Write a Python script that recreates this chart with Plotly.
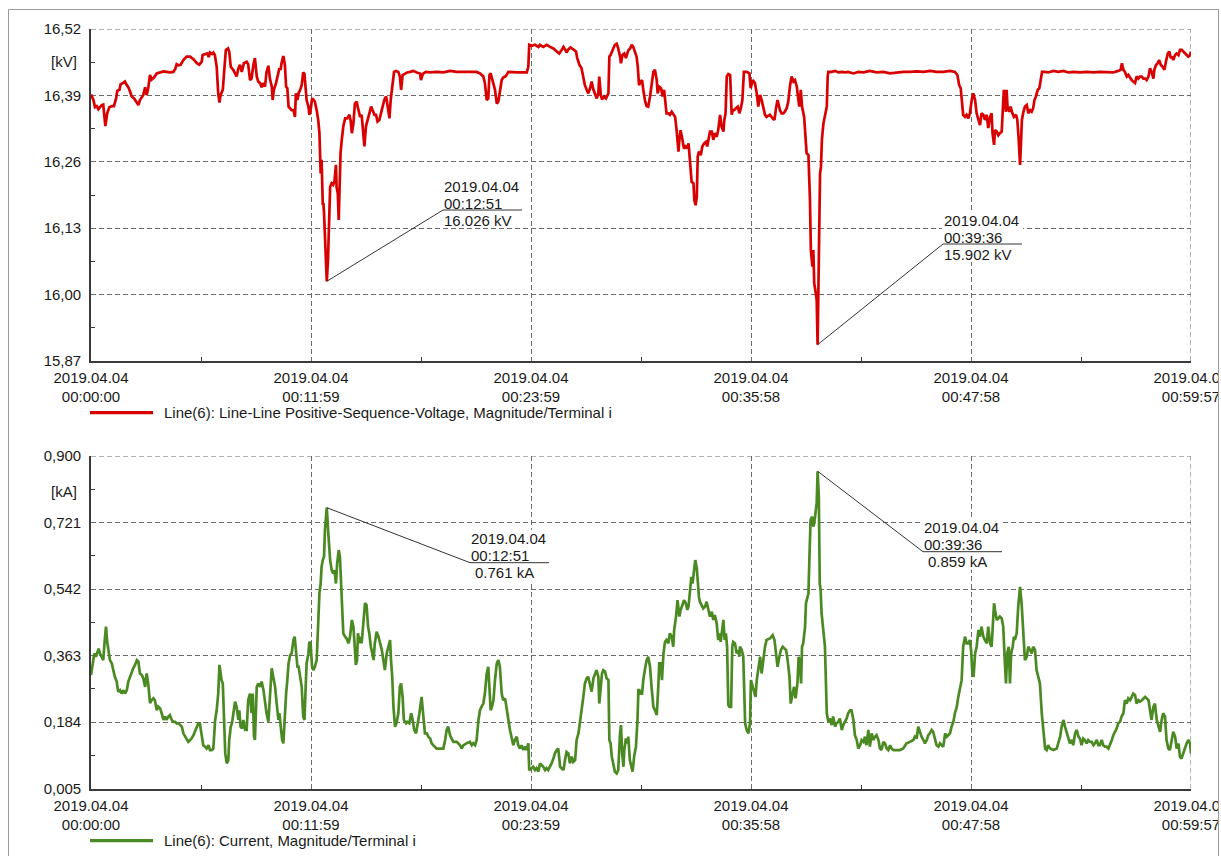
import numpy as np
import pandas as pd
import plotly.graph_objects as go

# ---------------- data (time in seconds from 2019.04.04 00:00:00) ----------------
voltage_time_s = [
    0, 8, 13, 19, 24, 29, 35, 40, 47, 53,
    60, 68, 75, 82, 86, 93, 97, 104, 111, 117,
    122, 128, 133, 141, 147, 155, 160, 166, 171, 177,
    182, 187, 193, 198, 206, 215, 226, 237, 247, 258,
    269, 275, 280, 286, 293, 302, 313, 324, 335, 346,
    354, 362, 365, 373, 380, 385, 389, 396, 400, 405,
    411, 416, 420, 424, 431, 435, 441, 448, 452, 457,
    465, 471, 476, 482, 487, 493, 500, 509, 514, 520,
    525, 531, 536, 542, 547, 553, 558, 564, 569, 574,
    580, 585, 591, 594, 598, 605, 610, 616, 620, 623,
    629, 634, 638, 642, 646, 651, 656, 662, 667, 670,
    675, 679, 683, 689, 694, 698, 702, 705, 711, 714,
    718, 723, 727, 732, 738, 743, 747, 749, 751, 754,
    758, 760, 762, 765, 768, 771, 775, 778, 782, 787,
    792, 796, 801, 803, 807, 810, 813, 816, 820, 825,
    831, 838, 845, 849, 853, 858, 863, 869, 872, 875,
    880, 885, 891, 894, 899, 904, 910, 916, 921, 927,
    932, 937, 943, 948, 954, 959, 965, 970, 976, 980,
    986, 991, 997, 1005, 1010, 1014, 1019, 1027, 1034, 1043,
    1054, 1065, 1076, 1079, 1085, 1095, 1109, 1130, 1152, 1174,
    1196, 1217, 1239, 1261, 1272, 1283, 1288, 1294, 1299, 1303,
    1307, 1313, 1321, 1327, 1332, 1337, 1343, 1348, 1357, 1365,
    1376, 1392, 1408, 1425, 1430, 1433, 1441, 1452, 1463, 1468,
    1479, 1490, 1501, 1512, 1523, 1531, 1539, 1545, 1550, 1555,
    1561, 1568, 1577, 1586, 1590, 1597, 1604, 1610, 1615, 1621,
    1626, 1632, 1637, 1643, 1648, 1654, 1659, 1662, 1667, 1671,
    1678, 1684, 1692, 1695, 1699, 1706, 1713, 1719, 1724, 1730,
    1733, 1738, 1744, 1749, 1757, 1763, 1768, 1773, 1779, 1784,
    1788, 1792, 1797, 1802, 1806, 1812, 1817, 1822, 1828, 1833,
    1839, 1844, 1850, 1853, 1858, 1864, 1869, 1874, 1878, 1882,
    1888, 1893, 1899, 1904, 1910, 1915, 1921, 1924, 1928, 1934,
    1939, 1945, 1950, 1954, 1959, 1964, 1970, 1973, 1977, 1981,
    1984, 1988, 1994, 1999, 2005, 2011, 2015, 2019, 2024, 2030,
    2035, 2040, 2046, 2051, 2057, 2062, 2068, 2071, 2075, 2079,
    2084, 2090, 2095, 2098, 2103, 2109, 2115, 2120, 2125, 2130,
    2135, 2144, 2153, 2157, 2164, 2171, 2177, 2182, 2188, 2193,
    2199, 2204, 2209, 2220, 2229, 2235, 2240, 2245, 2253, 2258,
    2264, 2269, 2275, 2280, 2286, 2291, 2297, 2302, 2308, 2313,
    2316, 2321, 2325, 2332, 2335, 2340, 2346, 2351, 2354, 2359,
    2362, 2365, 2370, 2373, 2376, 2379, 2384, 2387, 2390, 2395,
    2400, 2406, 2409, 2411, 2422, 2433, 2444, 2455, 2466, 2476,
    2493, 2509, 2526, 2547, 2569, 2591, 2613, 2635, 2656, 2678,
    2700, 2722, 2744, 2765, 2787, 2809, 2825, 2833, 2839, 2844,
    2848, 2852, 2858, 2863, 2869, 2874, 2880, 2885, 2891, 2896,
    2902, 2907, 2912, 2918, 2923, 2929, 2934, 2940, 2945, 2948,
    2953, 2956, 2962, 2967, 2972, 2978, 2981, 2985, 2989, 2992,
    2994, 2997, 3003, 3007, 3013, 3018, 3025, 3029, 3033, 3038,
    3041, 3044, 3049, 3054, 3060, 3065, 3071, 3076, 3081, 3085,
    3090, 3096, 3101, 3105, 3110, 3120, 3130, 3147, 3163, 3180,
    3196, 3212, 3234, 3256, 3278, 3299, 3321, 3343, 3359, 3367,
    3371, 3376, 3381, 3387, 3392, 3398, 3403, 3408, 3414, 3419,
    3425, 3430, 3436, 3441, 3447, 3452, 3458, 3463, 3468, 3474,
    3477, 3483, 3488, 3493, 3498, 3504, 3510, 3515, 3521, 3526,
    3531, 3535, 3539, 3545, 3550, 3556, 3561, 3567, 3572, 3578,
    3583, 3588, 3594, 3597,
]
voltage_kv = [
    16.392, 16.381, 16.367, 16.369, 16.363, 16.367, 16.371, 16.372, 16.330, 16.355,
    16.367, 16.369, 16.369, 16.384, 16.399, 16.401, 16.412, 16.414, 16.417, 16.410,
    16.406, 16.397, 16.388, 16.384, 16.378, 16.371, 16.381, 16.388, 16.391, 16.406,
    16.391, 16.404, 16.430, 16.421, 16.425, 16.433, 16.435, 16.437, 16.436, 16.435,
    16.436, 16.441, 16.451, 16.449, 16.450, 16.459, 16.466, 16.466, 16.461, 16.453,
    16.450, 16.456, 16.469, 16.471, 16.472, 16.465, 16.474, 16.471, 16.474, 16.469,
    16.446, 16.394, 16.376, 16.391, 16.401, 16.433, 16.479, 16.482, 16.476, 16.446,
    16.440, 16.433, 16.427, 16.443, 16.450, 16.436, 16.453, 16.456, 16.451, 16.420,
    16.423, 16.450, 16.463, 16.427, 16.417, 16.414, 16.406, 16.414, 16.407, 16.436,
    16.448, 16.423, 16.408, 16.381, 16.401, 16.414, 16.425, 16.443, 16.440, 16.453,
    16.467, 16.450, 16.407, 16.404, 16.368, 16.365, 16.361, 16.361, 16.348, 16.394,
    16.381, 16.395, 16.399, 16.410, 16.435, 16.432, 16.407, 16.381, 16.368, 16.352,
    16.361, 16.384, 16.382, 16.378, 16.361, 16.342, 16.316, 16.264, 16.237, 16.264,
    16.175, 16.179, 16.159, 16.107, 16.055, 16.026, 16.068, 16.140, 16.211, 16.218,
    16.215, 16.221, 16.254, 16.211, 16.198, 16.146, 16.211, 16.277, 16.303, 16.329,
    16.345, 16.345, 16.352, 16.341, 16.316, 16.335, 16.374, 16.378, 16.368, 16.358,
    16.348, 16.352, 16.303, 16.290, 16.329, 16.339, 16.355, 16.368, 16.361, 16.352,
    16.352, 16.339, 16.342, 16.355, 16.371, 16.381, 16.388, 16.368, 16.345, 16.381,
    16.407, 16.436, 16.438, 16.436, 16.427, 16.401, 16.430, 16.433, 16.435, 16.436,
    16.438, 16.435, 16.433, 16.420, 16.432, 16.436, 16.435, 16.436, 16.435, 16.438,
    16.436, 16.436, 16.436, 16.436, 16.433, 16.427, 16.414, 16.381, 16.384, 16.430,
    16.433, 16.420, 16.401, 16.374, 16.378, 16.397, 16.420, 16.425, 16.428, 16.436,
    16.435, 16.435, 16.435, 16.435, 16.446, 16.489, 16.487, 16.489, 16.485, 16.489,
    16.485, 16.489, 16.485, 16.482, 16.476, 16.472, 16.479, 16.485, 16.480, 16.474,
    16.480, 16.484, 16.480, 16.476, 16.463, 16.450, 16.443, 16.427, 16.410, 16.401,
    16.394, 16.404, 16.417, 16.401, 16.391, 16.384, 16.394, 16.427, 16.391, 16.382,
    16.388, 16.384, 16.394, 16.466, 16.469, 16.479, 16.489, 16.491, 16.482, 16.466,
    16.453, 16.469, 16.472, 16.463, 16.478, 16.482, 16.489, 16.485, 16.476, 16.466,
    16.446, 16.410, 16.417, 16.420, 16.401, 16.378, 16.369, 16.368, 16.388, 16.410,
    16.436, 16.440, 16.420, 16.394, 16.407, 16.404, 16.388, 16.401, 16.381, 16.355,
    16.355, 16.352, 16.358, 16.352, 16.348, 16.322, 16.280, 16.303, 16.322, 16.303,
    16.286, 16.290, 16.286, 16.296, 16.254, 16.221, 16.218, 16.185, 16.175, 16.192,
    16.270, 16.280, 16.273, 16.290, 16.296, 16.299, 16.290, 16.306, 16.319, 16.319,
    16.303, 16.316, 16.309, 16.322, 16.352, 16.329, 16.319, 16.342, 16.355, 16.427,
    16.432, 16.430, 16.352, 16.361, 16.361, 16.365, 16.368, 16.355, 16.365, 16.381,
    16.436, 16.436, 16.433, 16.404, 16.420, 16.414, 16.394, 16.368, 16.391, 16.381,
    16.361, 16.352, 16.348, 16.352, 16.345, 16.342, 16.365, 16.381, 16.361, 16.355,
    16.355, 16.358, 16.365, 16.378, 16.410, 16.427, 16.417, 16.420, 16.407, 16.381,
    16.368, 16.401, 16.368, 16.348, 16.316, 16.277, 16.273, 16.185, 16.087, 16.055,
    16.087, 16.022, 16.003, 15.989, 15.902, 16.022, 16.237, 16.250, 16.303, 16.335,
    16.348, 16.368, 16.427, 16.436, 16.436, 16.438, 16.435, 16.436, 16.435, 16.436,
    16.433, 16.436, 16.435, 16.438, 16.435, 16.436, 16.433, 16.435, 16.436, 16.436,
    16.437, 16.436, 16.438, 16.436, 16.436, 16.438, 16.436, 16.430, 16.410, 16.404,
    16.381, 16.352, 16.348, 16.352, 16.345, 16.355, 16.381, 16.394, 16.381, 16.355,
    16.342, 16.332, 16.355, 16.352, 16.342, 16.352, 16.326, 16.348, 16.355, 16.316,
    16.293, 16.322, 16.319, 16.312, 16.316, 16.319, 16.355, 16.401, 16.374, 16.358,
    16.401, 16.368, 16.358, 16.368, 16.355, 16.348, 16.352, 16.342, 16.309, 16.254,
    16.296, 16.342, 16.358, 16.368, 16.371, 16.355, 16.361, 16.358, 16.365, 16.381,
    16.388, 16.401, 16.404, 16.420, 16.436, 16.436, 16.435, 16.438, 16.436, 16.438,
    16.435, 16.436, 16.435, 16.436, 16.435, 16.436, 16.436, 16.435, 16.438, 16.440,
    16.453, 16.440, 16.436, 16.427, 16.430, 16.423, 16.420, 16.417, 16.414, 16.427,
    16.423, 16.427, 16.427, 16.423, 16.423, 16.420, 16.427, 16.443, 16.436, 16.423,
    16.440, 16.450, 16.453, 16.459, 16.450, 16.446, 16.440, 16.456, 16.472, 16.476,
    16.463, 16.466, 16.459, 16.469, 16.472, 16.469, 16.479, 16.479, 16.476, 16.472,
    16.469, 16.466, 16.469, 16.476,
]

current_time_s = [
    0, 5, 11, 16, 21, 25, 29, 35, 40, 45,
    49, 53, 58, 62, 68, 73, 78, 84, 89, 95,
    100, 106, 111, 117, 122, 128, 133, 138, 144, 150,
    155, 160, 166, 171, 177, 182, 187, 193, 198, 204,
    209, 215, 220, 226, 231, 237, 242, 247, 253, 258,
    264, 269, 275, 280, 286, 291, 297, 302, 308, 313,
    318, 324, 329, 335, 340, 346, 351, 356, 362, 367,
    373, 378, 384, 389, 395, 400, 406, 411, 416, 420,
    424, 427, 431, 435, 439, 444, 449, 452, 457, 461,
    465, 471, 476, 482, 485, 489, 494, 498, 504, 509,
    514, 520, 525, 529, 533, 536, 542, 547, 553, 558,
    564, 569, 574, 580, 585, 591, 596, 602, 607, 613,
    616, 620, 625, 629, 634, 638, 642, 646, 651, 656,
    662, 666, 671, 675, 679, 683, 689, 694, 698, 702,
    705, 711, 714, 718, 723, 727, 732, 738, 743, 747,
    751, 754, 758, 762, 765, 768, 771, 776, 782, 787,
    792, 796, 801, 805, 810, 814, 820, 825, 831, 836,
    842, 847, 853, 858, 861, 866, 870, 873, 878, 882,
    885, 891, 896, 901, 906, 910, 915, 920, 924, 928,
    934, 940, 945, 951, 956, 961, 967, 972, 978, 981,
    985, 989, 994, 999, 1005, 1010, 1014, 1019, 1023, 1030,
    1034, 1041, 1047, 1052, 1057, 1063, 1067, 1074, 1081, 1087,
    1092, 1098, 1103, 1109, 1114, 1119, 1130, 1141, 1152, 1158,
    1163, 1168, 1174, 1179, 1185, 1196, 1207, 1212, 1218, 1228,
    1239, 1245, 1250, 1256, 1261, 1267, 1272, 1277, 1283, 1288,
    1294, 1299, 1303, 1307, 1311, 1316, 1321, 1327, 1332, 1337,
    1343, 1348, 1354, 1359, 1365, 1370, 1376, 1381, 1386, 1392,
    1397, 1403, 1408, 1414, 1419, 1425, 1430, 1433, 1441, 1446,
    1452, 1457, 1463, 1468, 1474, 1479, 1485, 1490, 1495, 1501,
    1506, 1512, 1517, 1523, 1528, 1534, 1539, 1545, 1550, 1555,
    1561, 1566, 1572, 1577, 1583, 1588, 1594, 1599, 1604, 1610,
    1615, 1621, 1626, 1632, 1637, 1643, 1648, 1653, 1659, 1662,
    1667, 1671, 1675, 1681, 1686, 1692, 1695, 1699, 1703, 1708,
    1713, 1719, 1724, 1730, 1733, 1737, 1741, 1744, 1749, 1754,
    1757, 1762, 1768, 1771, 1776, 1782, 1787, 1790, 1793, 1797,
    1802, 1806, 1812, 1817, 1822, 1828, 1833, 1839, 1844, 1850,
    1855, 1858, 1863, 1867, 1872, 1877, 1882, 1888, 1893, 1899,
    1904, 1907, 1913, 1918, 1924, 1928, 1934, 1939, 1945, 1950,
    1954, 1959, 1963, 1967, 1972, 1976, 1981, 1984, 1988, 1991,
    1997, 2002, 2008, 2013, 2019, 2024, 2030, 2035, 2040, 2046,
    2051, 2055, 2059, 2063, 2068, 2072, 2076, 2080, 2084, 2088,
    2093, 2097, 2100, 2106, 2111, 2117, 2120, 2122, 2128, 2133,
    2139, 2144, 2150, 2155, 2158, 2164, 2169, 2173, 2177, 2182,
    2188, 2193, 2199, 2204, 2209, 2220, 2229, 2235, 2240, 2245,
    2251, 2256, 2262, 2267, 2273, 2278, 2284, 2288, 2293, 2299,
    2304, 2310, 2314, 2318, 2322, 2325, 2329, 2335, 2338, 2342,
    2346, 2349, 2353, 2358, 2362, 2365, 2370, 2373, 2376, 2380,
    2383, 2386, 2389, 2395, 2400, 2406, 2411, 2416, 2422, 2427,
    2433, 2438, 2444, 2449, 2455, 2460, 2466, 2471, 2476, 2482,
    2487, 2493, 2498, 2504, 2509, 2515, 2520, 2526, 2531, 2536,
    2542, 2547, 2553, 2558, 2564, 2569, 2575, 2580, 2585, 2591,
    2596, 2602, 2607, 2613, 2618, 2624, 2635, 2645, 2656, 2667,
    2678, 2689, 2694, 2700, 2705, 2711, 2716, 2722, 2727, 2733,
    2738, 2743, 2749, 2754, 2760, 2765, 2771, 2776, 2782, 2787,
    2793, 2798, 2803, 2809, 2814, 2820, 2825, 2831, 2836, 2842,
    2847, 2852, 2858, 2863, 2869, 2874, 2878, 2882, 2886, 2891,
    2896, 2902, 2907, 2912, 2918, 2923, 2929, 2934, 2940, 2945,
    2948, 2953, 2956, 2962, 2967, 2972, 2978, 2983, 2989, 2992,
    2996, 3001, 3005, 3009, 3014, 3018, 3021, 3027, 3032, 3038,
    3043, 3049, 3054, 3060, 3065, 3071, 3076, 3081, 3087, 3092,
    3098, 3103, 3109, 3114, 3120, 3125, 3130, 3136, 3147, 3158,
    3169, 3174, 3180, 3185, 3190, 3196, 3201, 3207, 3212, 3218,
    3223, 3229, 3234, 3239, 3245, 3250, 3256, 3261, 3267, 3272,
    3278, 3283, 3289, 3294, 3299, 3305, 3310, 3316, 3321, 3327,
    3332, 3338, 3343, 3348, 3354, 3359, 3365, 3370, 3376, 3381,
    3387, 3392, 3398, 3403, 3408, 3414, 3419, 3425, 3430, 3436,
    3441, 3447, 3452, 3458, 3463, 3468, 3474, 3479, 3485, 3490,
    3496, 3501, 3506, 3512, 3517, 3523, 3528, 3534, 3539, 3545,
    3550, 3556, 3561, 3566, 3572, 3577, 3583, 3588, 3594, 3597,
]
current_ka = [
    0.311, 0.333, 0.369, 0.360, 0.373, 0.382, 0.369, 0.360, 0.351, 0.405,
    0.441, 0.400, 0.369, 0.351, 0.342, 0.320, 0.306, 0.293, 0.266, 0.270,
    0.261, 0.270, 0.261, 0.270, 0.293, 0.306, 0.320, 0.329, 0.338, 0.351,
    0.347, 0.315, 0.311, 0.302, 0.279, 0.315, 0.288, 0.235, 0.243, 0.248,
    0.243, 0.216, 0.226, 0.221, 0.208, 0.190, 0.199, 0.190, 0.199, 0.203,
    0.190, 0.185, 0.185, 0.181, 0.181, 0.176, 0.172, 0.154, 0.145, 0.140,
    0.131, 0.136, 0.140, 0.149, 0.158, 0.172, 0.181, 0.181, 0.149, 0.122,
    0.118, 0.113, 0.122, 0.109, 0.109, 0.113, 0.190, 0.216, 0.261, 0.338,
    0.315, 0.297, 0.288, 0.190, 0.100, 0.073, 0.082, 0.136, 0.172, 0.181,
    0.208, 0.239, 0.226, 0.190, 0.216, 0.172, 0.167, 0.190, 0.163, 0.163,
    0.243, 0.261, 0.208, 0.261, 0.145, 0.136, 0.279, 0.288, 0.279, 0.293,
    0.270, 0.235, 0.208, 0.185, 0.252, 0.329, 0.306, 0.279, 0.235, 0.190,
    0.208, 0.172, 0.136, 0.127, 0.208, 0.261, 0.297, 0.342, 0.364, 0.369,
    0.405, 0.414, 0.369, 0.333, 0.333, 0.315, 0.279, 0.199, 0.190, 0.279,
    0.342, 0.369, 0.400, 0.396, 0.333, 0.324, 0.333, 0.351, 0.459, 0.531,
    0.557, 0.602, 0.620, 0.629, 0.701, 0.728, 0.761, 0.692, 0.620, 0.593,
    0.584, 0.593, 0.557, 0.611, 0.647, 0.629, 0.521, 0.423, 0.414, 0.409,
    0.396, 0.414, 0.459, 0.441, 0.405, 0.338, 0.351, 0.423, 0.396, 0.414,
    0.396, 0.459, 0.504, 0.499, 0.441, 0.423, 0.387, 0.369, 0.351, 0.396,
    0.427, 0.414, 0.396, 0.378, 0.351, 0.324, 0.369, 0.387, 0.405, 0.351,
    0.306, 0.226, 0.172, 0.181, 0.208, 0.279, 0.288, 0.252, 0.190, 0.181,
    0.185, 0.181, 0.208, 0.190, 0.163, 0.154, 0.172, 0.208, 0.252, 0.208,
    0.154, 0.154, 0.145, 0.140, 0.127, 0.122, 0.113, 0.113, 0.113, 0.136,
    0.163, 0.172, 0.149, 0.140, 0.131, 0.131, 0.122, 0.113, 0.122, 0.127,
    0.131, 0.122, 0.127, 0.122, 0.136, 0.190, 0.216, 0.225, 0.234, 0.261,
    0.315, 0.333, 0.252, 0.216, 0.225, 0.243, 0.297, 0.342, 0.351, 0.333,
    0.261, 0.243, 0.248, 0.216, 0.190, 0.163, 0.140, 0.122, 0.136, 0.145,
    0.122, 0.113, 0.122, 0.109, 0.118, 0.109, 0.127, 0.055, 0.060, 0.064,
    0.055, 0.060, 0.051, 0.073, 0.068, 0.064, 0.055, 0.060, 0.055, 0.064,
    0.073, 0.086, 0.100, 0.109, 0.113, 0.064, 0.060, 0.055, 0.082, 0.104,
    0.100, 0.073, 0.091, 0.077, 0.082, 0.136, 0.154, 0.181, 0.208, 0.252,
    0.288, 0.302, 0.306, 0.288, 0.266, 0.302, 0.315, 0.324, 0.306, 0.234,
    0.279, 0.315, 0.324, 0.320, 0.302, 0.297, 0.136, 0.127, 0.091, 0.073,
    0.051, 0.046, 0.055, 0.154, 0.176, 0.100, 0.064, 0.109, 0.140, 0.127,
    0.145, 0.082, 0.055, 0.051, 0.091, 0.118, 0.190, 0.270, 0.270, 0.261,
    0.261, 0.297, 0.329, 0.351, 0.360, 0.333, 0.279, 0.225, 0.216, 0.203,
    0.279, 0.342, 0.342, 0.297, 0.369, 0.400, 0.405, 0.396, 0.423, 0.414,
    0.387, 0.432, 0.468, 0.512, 0.468, 0.486, 0.499, 0.512, 0.504, 0.486,
    0.495, 0.544, 0.575, 0.557, 0.598, 0.620, 0.598, 0.548, 0.521, 0.508,
    0.499, 0.490, 0.495, 0.508, 0.486, 0.468, 0.481, 0.459, 0.472, 0.450,
    0.405, 0.423, 0.400, 0.432, 0.459, 0.405, 0.423, 0.387, 0.230, 0.225,
    0.225, 0.387, 0.400, 0.396, 0.369, 0.378, 0.360, 0.387, 0.378, 0.360,
    0.181, 0.163, 0.154, 0.181, 0.297, 0.279, 0.261, 0.252, 0.297, 0.333,
    0.360, 0.315, 0.360, 0.387, 0.405, 0.409, 0.418, 0.405, 0.369, 0.333,
    0.360, 0.378, 0.387, 0.382, 0.378, 0.351, 0.306, 0.234, 0.252, 0.279,
    0.248, 0.288, 0.360, 0.342, 0.288, 0.387, 0.396, 0.441, 0.504, 0.521,
    0.530, 0.620, 0.728, 0.737, 0.710, 0.719, 0.764, 0.773, 0.859, 0.791,
    0.557, 0.539, 0.477, 0.414, 0.387, 0.208, 0.185, 0.194, 0.176, 0.199,
    0.172, 0.181, 0.185, 0.194, 0.163, 0.176, 0.185, 0.194, 0.208, 0.216,
    0.216, 0.190, 0.149, 0.136, 0.113, 0.122, 0.136, 0.131, 0.145, 0.122,
    0.163, 0.118, 0.154, 0.136, 0.145, 0.149, 0.136, 0.113, 0.109, 0.131,
    0.127, 0.113, 0.109, 0.122, 0.113, 0.109, 0.109, 0.109, 0.113, 0.127,
    0.131, 0.136, 0.145, 0.140, 0.172, 0.154, 0.145, 0.136, 0.127, 0.136,
    0.149, 0.154, 0.163, 0.158, 0.140, 0.122, 0.118, 0.127, 0.122, 0.118,
    0.154, 0.145, 0.149, 0.154, 0.172, 0.185, 0.208, 0.225, 0.252, 0.279,
    0.297, 0.387, 0.414, 0.396, 0.396, 0.405, 0.378, 0.315, 0.306, 0.369,
    0.387, 0.432, 0.414, 0.441, 0.414, 0.405, 0.396, 0.441, 0.396, 0.387,
    0.441, 0.504, 0.486, 0.459, 0.463, 0.468, 0.463, 0.441, 0.333, 0.288,
    0.369, 0.387, 0.288, 0.369, 0.387, 0.414, 0.405, 0.423, 0.495, 0.548,
    0.504, 0.414, 0.351, 0.360, 0.387, 0.378, 0.369, 0.387, 0.378, 0.324,
    0.306, 0.288, 0.208, 0.158, 0.113, 0.109, 0.122, 0.113, 0.109, 0.113,
    0.145, 0.172, 0.190, 0.172, 0.158, 0.145, 0.127, 0.136, 0.122, 0.154,
    0.163, 0.145, 0.140, 0.122, 0.140, 0.136, 0.127, 0.136, 0.131, 0.131,
    0.122, 0.127, 0.136, 0.122, 0.122, 0.136, 0.122, 0.118, 0.118, 0.113,
    0.122, 0.136, 0.149, 0.158, 0.167, 0.181, 0.185, 0.199, 0.208, 0.243,
    0.234, 0.248, 0.243, 0.252, 0.261, 0.257, 0.234, 0.243, 0.239, 0.243,
    0.248, 0.252, 0.248, 0.243, 0.216, 0.190, 0.225, 0.234, 0.190, 0.172,
    0.158, 0.190, 0.208, 0.199, 0.136, 0.113, 0.109, 0.136, 0.158, 0.145,
    0.113, 0.127, 0.091, 0.086, 0.104, 0.113, 0.127, 0.136, 0.127, 0.100,
]

# axis ticks
time_tick_s = [0, 719.4, 1438.8, 2158.2, 2877.6, 3597]
time_tick_labels = ["00:00:00", "00:11:59", "00:23:59", "00:35:58", "00:47:58", "00:59:57"]
date_label = "2019.04.04"
voltage_ticks = [15.87, 16.00, 16.13, 16.26, 16.39, 16.52]
voltage_tick_labels = ["15,87", "16,00", "16,13", "16,26", "16,39", "16,52"]
current_ticks = [0.005, 0.184, 0.363, 0.542, 0.721, 0.900]
current_tick_labels = ["0,005", "0,184", "0,363", "0,542", "0,721", "0,900"]
callout_times_s = [771, 2376]
callout_time_labels = ["00:12:51", "00:39:36"]

voltage_legend = "Line(6): Line-Line Positive-Sequence-Voltage, Magnitude/Terminal i"
current_legend = "Line(6): Current, Magnitude/Terminal i"

# ---------------- helpers ----------------
BASE = pd.Timestamp("2019-04-04 00:00:00")


def to_time(sec):
    return BASE + pd.to_timedelta(np.asarray(sec, dtype=float), unit="s")


def one_time(sec):
    return (BASE + pd.to_timedelta(float(sec), unit="s")).strftime("%Y-%m-%d %H:%M:%S.%f")


W, H = 1221, 856
L_PX, R_PX = 91, 1191
TOP1, BOT1 = 29, 361
TOP2, BOT2 = 456, 788.7
SPAN = time_tick_s[-1]

RED = "#D80000"
GREEN = "#4B8A22"
FONT = "Liberation Sans, Arial, sans-serif"
TXT = "#1a1a1a"
AXC = "#3a3a3a"
GRIDC = "#6a6a6a"
GRID_DASH = "5px,3px"


def px_to_sec(px):
    return (px - L_PX) / (R_PX - L_PX) * SPAN


def py_to_val(py, top, bot, lo, hi):
    return hi - (py - top) / (bot - top) * (hi - lo)


fig = go.Figure()
fig.add_trace(go.Scatter(x=to_time(voltage_time_s), y=voltage_kv, mode="lines",
                         line=dict(color=RED, width=2.7), xaxis="x", yaxis="y",
                         name=voltage_legend, showlegend=False))
fig.add_trace(go.Scatter(x=to_time(current_time_s), y=current_ka, mode="lines",
                         line=dict(color=GREEN, width=2.7), xaxis="x2", yaxis="y2",
                         name=current_legend, showlegend=False))

tickvals_t = [one_time(s) for s in time_tick_s]
ticktext_t = [f"{date_label}<br>{t}" for t in time_tick_labels]
minor_t = [one_time((a + b) / 2) for a, b in zip(time_tick_s[:-1], time_tick_s[1:])]


def xaxis_cfg(anchor):
    return dict(
        domain=[L_PX / W, R_PX / W], anchor=anchor, type="date", automargin=False,
        range=[one_time(0), one_time(SPAN)],
        tickmode="array", tickvals=tickvals_t, ticktext=ticktext_t,
        ticks="", showgrid=True, gridcolor=GRIDC, gridwidth=1, griddash=GRID_DASH,
        showline=True, linecolor=AXC, linewidth=1.6, zeroline=False,
        ticklabeloverflow="allow", ticklabelstandoff=2,
        tickfont=dict(family=FONT, size=15, color=TXT),
        minor=dict(tickmode="array", tickvals=minor_t, ticks="inside", ticklen=4,
                   tickcolor=AXC, tickwidth=1, showgrid=False),
    )


def yaxis_cfg(anchor, top, bot, ticks, labels):
    minor_v = [(a + b) / 2 for a, b in zip(ticks[:-1], ticks[1:])]
    return dict(
        domain=[1 - bot / H, 1 - top / H], anchor=anchor, automargin=False,
        range=[ticks[0], ticks[-1]],
        tickmode="array", tickvals=ticks, ticktext=labels,
        ticks="", showgrid=True, gridcolor=GRIDC, gridwidth=1, griddash=GRID_DASH,
        showline=True, linecolor=AXC, linewidth=1.6, zeroline=False,
        tickfont=dict(family=FONT, size=15, color=TXT),
        ticklabelstandoff=5,
        minor=dict(tickmode="array", tickvals=minor_v, ticks="inside", ticklen=4,
                   tickcolor=AXC, tickwidth=1, showgrid=False),
    )


shapes = []
annotations = []

panels = [
    dict(xref="x", yref="y", top=TOP1, bot=BOT1, lo=voltage_ticks[0], hi=voltage_ticks[-1],
         times=voltage_time_s, vals=voltage_kv, fmt="{:.3f} kV",
         elbows=[(443, 210), (943, 244)], indent=0),
    dict(xref="x2", yref="y2", top=TOP2, bot=BOT2, lo=current_ticks[0], hi=current_ticks[-1],
         times=current_time_s, vals=current_ka, fmt="{:.3f} kA",
         elbows=[(470, 562.7), (923, 551.7)], indent=4),
]

for p in panels:
    # grid lines at the far ends of each axis (plotly drops edge grid lines)
    shapes.append(dict(type="line", xref=p["xref"], yref=p["yref"],
                       x0=one_time(SPAN), x1=one_time(SPAN), y0=p["lo"], y1=p["hi"],
                       line=dict(color=GRIDC, width=1, dash=GRID_DASH), layer="between"))
    shapes.append(dict(type="line", xref=p["xref"], yref=p["yref"],
                       x0=one_time(0), x1=one_time(SPAN), y0=p["hi"], y1=p["hi"],
                       line=dict(color=GRIDC, width=1, dash=GRID_DASH), layer="between"))

    # ---- callouts ----
    for k, sec in enumerate(callout_times_s):
        idx = p["times"].index(sec)
        val = p["vals"][idx]
        ex, ey = p["elbows"][k]

        def D(px, py, p=p):
            return one_time(px_to_sec(px)), py_to_val(py, p["top"], p["bot"], p["lo"], p["hi"])

        x0, y0 = D(ex - 1, ey + 18)
        x1, y1 = D(ex + 80, ey - 33)
        shapes.append(dict(type="rect", xref=p["xref"], yref=p["yref"], x0=x0, x1=x1, y0=y0, y1=y1,
                           fillcolor="white", line=dict(width=0), layer="between"))
        exd, eyd = D(ex, ey)
        shapes.append(dict(type="line", xref=p["xref"], yref=p["yref"],
                           x0=one_time(sec), y0=val, x1=exd, y1=eyd,
                           line=dict(color="#333333", width=1)))
        ux, uy = D(ex + 79, ey)
        shapes.append(dict(type="line", xref=p["xref"], yref=p["yref"],
                           x0=exd, y0=eyd, x1=ux, y1=uy,
                           line=dict(color="#333333", width=1)))
        lines = [date_label, callout_time_labels[k], p["fmt"].format(val)]
        offs = [(-24, 0), (-7, 0), (10, p["indent"])]
        for txt, (dy, dx) in zip(lines, offs):
            tx, ty = D(ex + dx, ey + dy)
            annotations.append(dict(xref=p["xref"], yref=p["yref"], x=tx, y=ty, text=txt,
                                    showarrow=False, xanchor="left", yanchor="middle",
                                    borderpad=0,
                                    font=dict(family=FONT, size=15, color=TXT)))

# ---- unit labels ----
for txt, py in [("[kV]", 62), ("[kA]", 491.7)]:
    annotations.append(dict(xref="paper", yref="paper", x=79 / W, y=1 - py / H, text=txt,
                            showarrow=False, xanchor="right", yanchor="middle",
                            font=dict(family=FONT, size=15, color=TXT)))

# ---- legends (drawn) ----
for txt, col, py in [(voltage_legend, RED, 412.7), (current_legend, GREEN, 840.7)]:
    shapes.append(dict(type="line", xref="paper", yref="paper", x0=90 / W, x1=153 / W,
                       y0=1 - py / H, y1=1 - py / H, line=dict(color=col, width=3.2)))
    annotations.append(dict(xref="paper", yref="paper", x=162 / W, y=1 - py / H, text=txt,
                            showarrow=False, xanchor="left", yanchor="middle",
                            font=dict(family=FONT, size=15, color=TXT)))

# ---- outer frame ----
shapes.append(dict(type="rect", xref="paper", yref="paper", x0=1219 / W, x1=1.05, y0=-0.1, y1=1.1,
                   fillcolor="white", line=dict(width=0), layer="above"))
shapes.append(dict(type="rect", xref="paper", yref="paper", x0=8.5 / W, x1=1218.5 / W,
                   y0=-0.05, y1=1 - 9.5 / H, line=dict(color="#9a9a9a", width=1),
                   fillcolor="rgba(0,0,0,0)", layer="above"))

fig.update_layout(
    width=W, height=H, margin=dict(l=0, r=0, t=0, b=0, autoexpand=False),
    paper_bgcolor="white", plot_bgcolor="white",
    showlegend=False,
    xaxis=xaxis_cfg("y"), yaxis=yaxis_cfg("x", TOP1, BOT1, voltage_ticks, voltage_tick_labels),
    xaxis2=xaxis_cfg("y2"), yaxis2=yaxis_cfg("x2", TOP2, BOT2, current_ticks, current_tick_labels),
    shapes=shapes, annotations=annotations,
    font=dict(family=FONT, size=15, color=TXT),
)

fig.write_html("out.html", config={"displayModeBar": False},
               post_script="document.body.style.margin='0';document.body.style.overflow='hidden';")
